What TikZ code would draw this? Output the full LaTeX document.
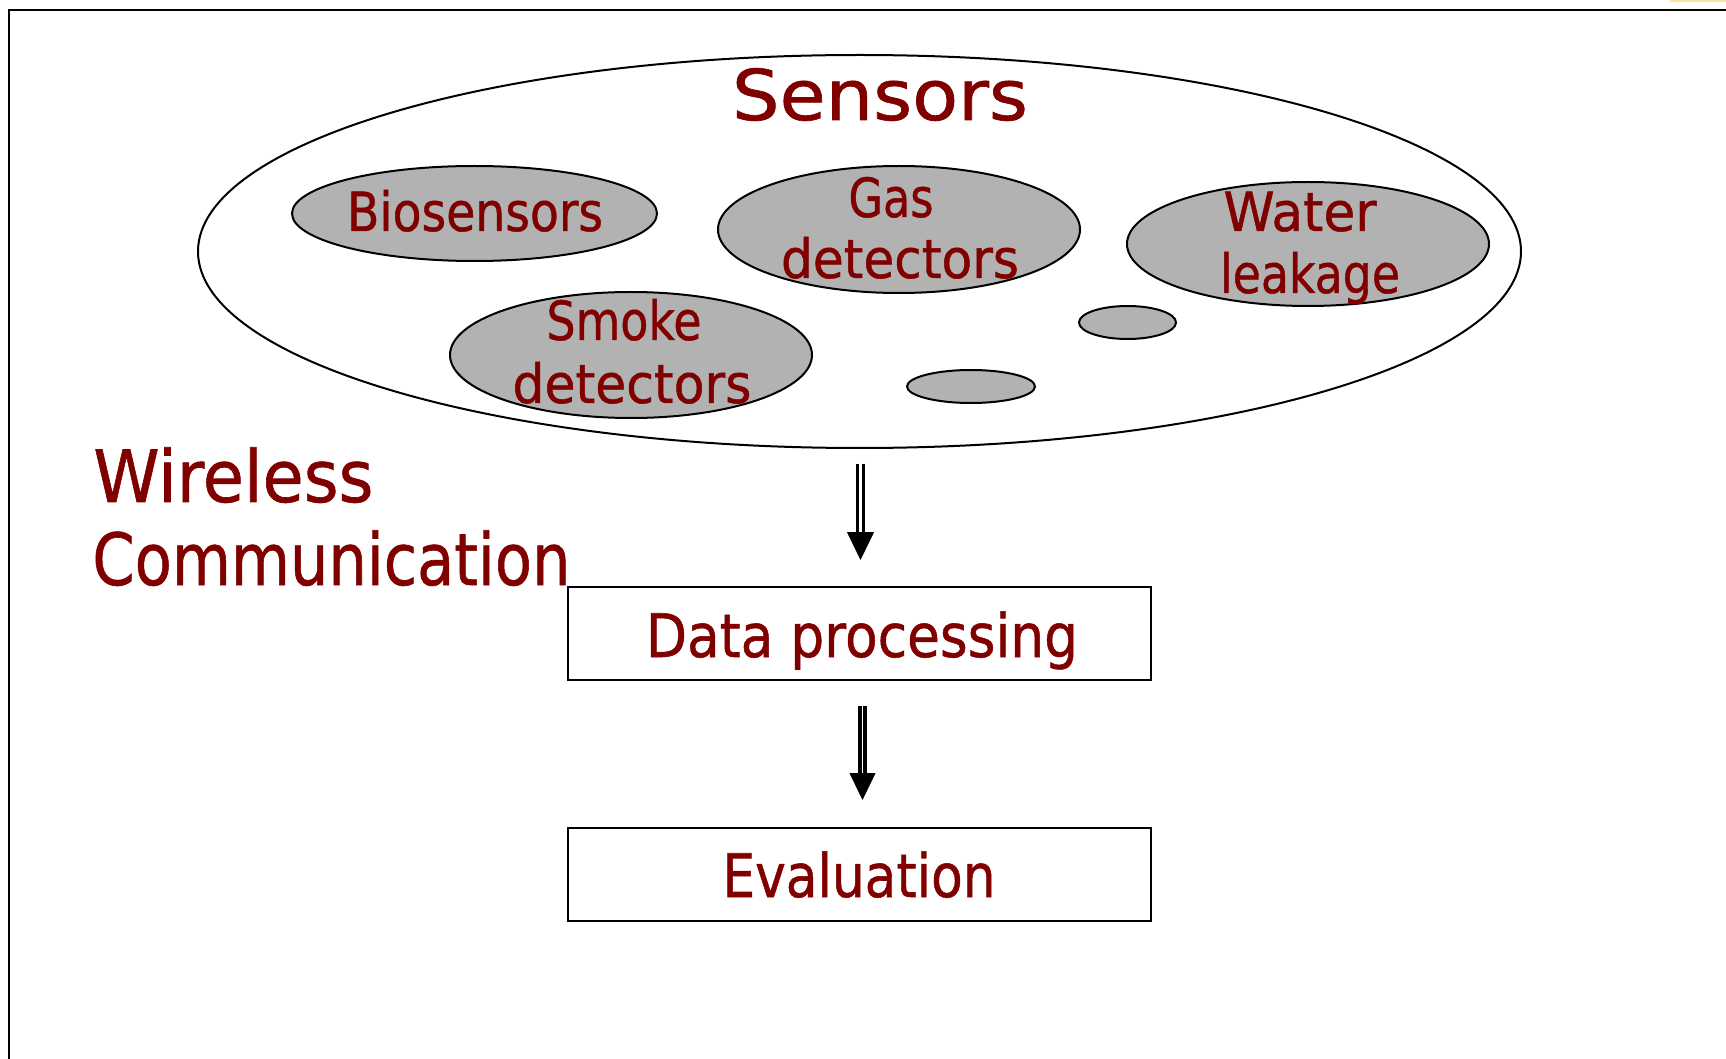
\documentclass[tikz,border=0pt]{standalone}
\usepackage{fontspec}
\setmainfont[FakeBold=0.9]{DejaVu Sans}
\usetikzlibrary{shapes.geometric,arrows.meta}
\definecolor{txt}{HTML}{800000}
\definecolor{sgray}{HTML}{B2B2B2}
\definecolor{speck}{HTML}{FBE49A}
\newcommand\fitw[2]{\resizebox{#1}{\height}{#2}}
\begin{document}
\begin{tikzpicture}[x=0.5pt,y=-0.5pt,
  oval/.style={ellipse, draw=black, line width=1pt, inner sep=0pt, outer sep=0pt},
  sub/.style={oval, fill=sgray},
  lbl/.style={anchor=base, inner sep=0pt, text=txt},
  bigt/.style={lbl, font=\fontsize{35}{42}\selectfont},
  wlt/.style={lbl, anchor=base west, font=\fontsize{36}{43}\selectfont},
  midt/.style={lbl, font=\fontsize{27}{32}\selectfont},
  boxt/.style={lbl, font=\fontsize{30}{36}\selectfont},
  stage/.style={draw=black, line width=1pt, rectangle, inner sep=0pt, outer sep=0pt,
    minimum width=291.5pt, minimum height=46.5pt},
  shaftA/.style={double, line width=1.5pt, double distance=1.35pt},
  shaftB/.style={double, line width=2pt, double distance=0.85pt},
  headA/.style={line width=0.4pt, -{Triangle[width=13.5pt,length=14pt]}},
  headB/.style={line width=0.4pt, -{Triangle[width=13pt,length=13.5pt]}}
]
\useasboundingbox (0,0) rectangle (1726,1059);
% frame
\draw[line width=1.4pt] (9,1070) -- (9,10) -- (1740,10);
\fill[speck] (1670,0) rectangle (1726,2.5);

% sensors group
\node[oval, minimum width=661.5pt, minimum height=196.5pt] (sensors) at (859.5,251.5) {};
\node[sub, minimum width=182.5pt, minimum height=47.5pt] (bio) at (474.5,213.5) {};
\node[sub, minimum width=181pt, minimum height=63.5pt] (gas) at (899,229.5) {};
\node[sub, minimum width=181pt, minimum height=62pt] (water) at (1308,244) {};
\node[sub, minimum width=181pt, minimum height=63pt] (smoke) at (631,355) {};
\node[sub, minimum width=48.5pt, minimum height=16.5pt] (small1) at (1127.5,322.5) {};
\node[sub, minimum width=64pt, minimum height=16.5pt] (small2) at (971,386.5) {};

\node[bigt] (t-sensors) at (880,120) {\fitw{148pt}{Sensors}};
\node[midt] (t-bio) at (475,231) {\fitw{128pt}{Biosensors}};
\node[midt] (t-gas1) at (891,217) {\fitw{42.5pt}{Gas}};
\node[midt] (t-gas2) at (900,278) {\fitw{119pt}{detectors}};
\node[midt] (t-water1) at (1300,231) {\fitw{76.5pt}{Water}};
\node[midt] (t-water2) at (1310,293) {\fitw{90pt}{leakage}};
\node[midt] (t-smoke1) at (624,340) {\fitw{77.5pt}{Smoke}};
\node[midt] (t-smoke2) at (632,403) {\fitw{119.5pt}{detectors}};

\node[wlt] (t-wl1) at (93,502) {\fitw{140pt}{Wireless}};
\node[wlt] (t-wl2) at (92,585) {\fitw{239pt}{Communication}};

% processing chain
\node[stage] (dp) at (859.5,633.5) {};
\node[boxt] (t-dp) at (862,657) {\fitw{216pt}{Data processing}};
\node[stage] (eval) at (859.5,874.5) {};
\node[boxt] (t-eval) at (859,897) {\fitw{136.5pt}{Evaluation}};

% connectors
\draw[headA, shorten <=8pt, shorten >=13.5pt] ([xshift=0.5pt]sensors.south) -- ([xshift=0.5pt]dp.north);
\draw[shaftA, shorten <=8pt, shorten >=27.5pt] ([xshift=0.5pt]sensors.south) -- ([xshift=0.5pt]dp.north);
\draw[headB, shorten <=13pt, shorten >=14pt] ([xshift=1.5pt]dp.south) -- ([xshift=1.5pt]eval.north);
\draw[shaftB, shorten <=13pt, shorten >=27.5pt] ([xshift=1.5pt]dp.south) -- ([xshift=1.5pt]eval.north);
\end{tikzpicture}
\end{document}
